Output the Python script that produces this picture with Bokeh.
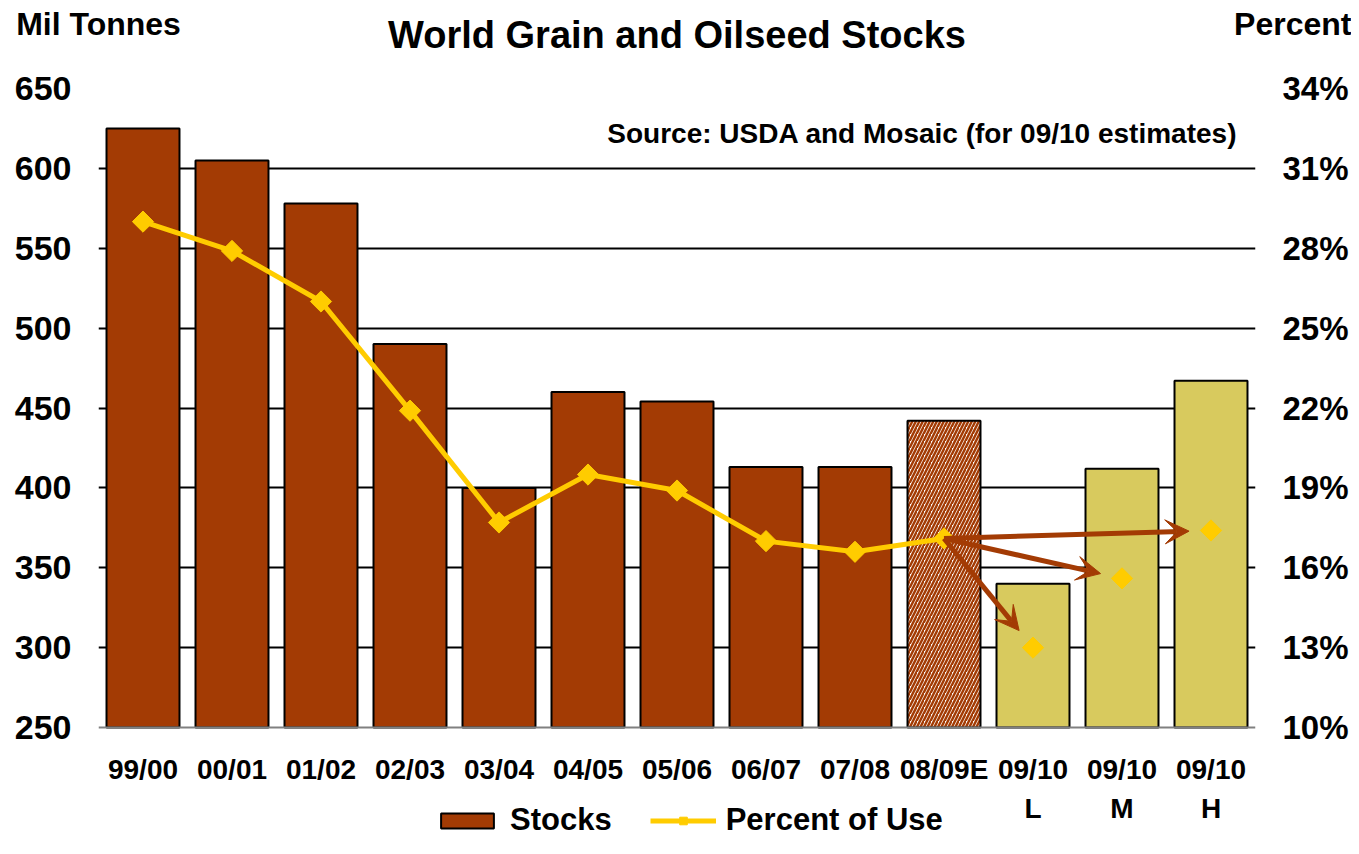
import math
from bokeh.plotting import figure
from bokeh.models import (Range1d, LinearAxis, FixedTicker, ColumnDataSource, Arrow,
                          VeeHead, Label, Legend, LegendItem, Grid, Title)
from bokeh.embed import file_html
from bokeh.resources import INLINE

# ---------------- data ----------------
seasons = ["99/00", "00/01", "01/02", "02/03", "03/04", "04/05", "05/06",
           "06/07", "07/08", "08/09E", "09/10", "09/10", "09/10"]
scenarios = ["", "", "", "", "", "", "", "", "", "", "L", "M", "H"]
stocks = [625, 605, 578, 490, 400, 460, 454, 413, 413, 442, 340, 412, 467]
pct_use = [29.0, 27.9, 26.0, 21.9, 17.7, 19.5, 18.9, 17.0, 16.6, 17.1, 13.0, 15.6, 17.4]
kind = ["hist"] * 9 + ["est"] + ["proj"] * 3

left_ticks = [250, 300, 350, 400, 450, 500, 550, 600, 650]
right_ticks = [10, 13, 16, 19, 22, 25, 28, 31, 34]

title_text = "World Grain and Oilseed Stocks"
left_title = "Mil Tonnes"
right_title = "Percent"
source_text = "Source: USDA and Mosaic (for 09/10 estimates)"

# ---------------- styles / layout ----------------
FONT = "Liberation Sans"
BROWN = "#A33B04"
OLIVE = "#D8CA5E"
YELLOW = "#FFCC00"

W, H = 1351, 838
ML, MR, MT = 98, 94, 88
BASE_Y = 727                      # canvas y of the value-axis baseline
span_px = BASE_Y - MT
fw = W - ML - MR
fh = H - MT

# the frame reaches the canvas bottom so the category labels and legend live inside it
y_lo = left_ticks[0] - (H - BASE_Y) * (left_ticks[-1] - left_ticks[0]) / span_px
p_lo = right_ticks[0] - (H - BASE_Y) * (right_ticks[-1] - right_ticks[0]) / span_px

idx = list(range(len(seasons)))

p = figure(width=W, height=H, output_backend="svg", toolbar_location=None,
           x_range=Range1d(-0.5, len(seasons) - 0.5),
           y_range=Range1d(y_lo, left_ticks[-1]),
           x_axis_location=None, y_axis_location=None,
           min_border_left=ML, min_border_right=MR, min_border_top=MT, min_border_bottom=0,
           background_fill_color="white", border_fill_color="white")
p.outline_line_color = None
p.title.text = ""
p.title.visible = False
p.extra_y_ranges = {"pct": Range1d(p_lo, right_ticks[-1])}
p.extra_x_ranges = {"hdr": Range1d(0, 1)}

p.center = [c for c in p.center if not isinstance(c, Grid)]
p.add_layout(Grid(dimension=1, ticker=FixedTicker(ticks=left_ticks[1:]),
                  grid_line_color="black", grid_line_width=2))

# axes
def style_axis(ax, size):
    ax.axis_line_color = None
    ax.major_tick_line_color = None
    ax.minor_tick_line_color = None
    ax.major_tick_out = 0
    ax.major_tick_in = 0
    ax.minor_tick_out = 0
    ax.minor_tick_in = 0
    ax.major_label_text_font = FONT
    ax.major_label_text_font_size = size
    ax.major_label_text_font_style = "bold"
    ax.major_label_text_color = "black"

yl = LinearAxis(ticker=FixedTicker(ticks=left_ticks))
style_axis(yl, "34px")
yl.major_label_standoff = 27
p.add_layout(yl, "left")

yr = LinearAxis(y_range_name="pct", ticker=FixedTicker(ticks=right_ticks),
                major_label_overrides={t: f"{t}%" for t in right_ticks})
style_axis(yr, "33px")
yr.major_label_standoff = 27
p.add_layout(yr, "right")

xa1 = LinearAxis(ticker=FixedTicker(ticks=idx), fixed_location=left_ticks[0],
                 major_label_overrides={i: s for i, s in zip(idx, seasons)})
style_axis(xa1, "28px")
xa1.axis_line_color = "#808080"
xa1.axis_line_width = 2
xa1.major_label_standoff = 26
p.add_layout(xa1, "below")

sc_idx = [i for i, s in zip(idx, scenarios) if s]
xa2 = LinearAxis(ticker=FixedTicker(ticks=sc_idx), fixed_location=left_ticks[0],
                 major_label_overrides={i: scenarios[i] for i in sc_idx})
style_axis(xa2, "28px")
xa2.major_label_standoff = 65
p.add_layout(xa2, "below")

# unit caption of the left scale, as a label of a header axis at the frame's left edge
SMALL = 32
B_SMALL = 47      # caption text-box bottom above the frame top
B_PCT = 43
hdr = LinearAxis(x_range_name="hdr", ticker=FixedTicker(ticks=[0]),
                 major_label_overrides={0: left_title})
style_axis(hdr, f"{SMALL}px")
hdr.major_label_standoff = B_SMALL
p.add_layout(hdr, "above")

# bars
def sub(k):
    ii = [i for i in idx if kind[i] == k]
    return ColumnDataSource(dict(x=ii, top=[stocks[i] for i in ii]))

BW = 0.82
r_hist = p.vbar(x="x", top="top", bottom=left_ticks[0], width=BW, source=sub("hist"),
                fill_color=BROWN, line_color="black", line_width=2)
p.vbar(x="x", top="top", bottom=left_ticks[0], width=BW, source=sub("est"),
       fill_color="white", hatch_pattern="/", hatch_color=BROWN, hatch_scale=7,
       hatch_weight=2.5, line_color="black", line_width=2)
p.vbar(x="x", top="top", bottom=left_ticks[0], width=BW, source=sub("proj"),
       fill_color=OLIVE, line_color="black", line_width=2)

# percent of use line
n_line = kind.index("proj")
r_line = p.line(idx[:n_line], pct_use[:n_line], y_range_name="pct",
                line_color=YELLOW, line_width=5)
r_pts = p.scatter(idx, pct_use, y_range_name="pct", marker="square", angle=math.pi / 4,
                  size=15, fill_color=YELLOW, line_color=YELLOW)

# arrows from the estimate to each projection, stopping ~22px before the target
pxx = fw / len(seasons)
pxy = span_px / (right_ticks[-1] - right_ticks[0])
s0 = kind.index("est")
xs, ys = idx[s0], pct_use[s0]
ax_s, ay_s, ax_e, ay_e = [], [], [], []
for i in idx:
    if kind[i] != "proj":
        continue
    dxp = (idx[i] - xs) * pxx
    dyp = (pct_use[i] - ys) * pxy
    f = 1 - 22 / math.hypot(dxp, dyp)
    ax_s.append(xs)
    ay_s.append(ys)
    ax_e.append(xs + f * (idx[i] - xs))
    ay_e.append(ys + f * (pct_use[i] - ys))
arr_src = ColumnDataSource(dict(x0=ax_s, y0=ay_s, x1=ax_e, y1=ay_e))
p.add_layout(Arrow(x_start="x0", y_start="y0", x_end="x1", y_end="y1", source=arr_src,
                   y_range_name="pct", line_color=BROWN, line_width=5,
                   end=VeeHead(size=24, fill_color=BROWN, line_color=BROWN, line_width=1)))

# source note
p.add_layout(Label(x=fw - 20, y=fh - 45, x_units="screen", y_units="screen", text=source_text,
                   text_font=FONT, text_font_size="28px", text_font_style="bold",
                   text_color="black", text_align="right", text_baseline="middle"))

# legend at the bottom of the frame
legend = Legend(items=[LegendItem(label="Stocks", renderers=[r_hist]),
                       LegendItem(label="Percent of Use", renderers=[r_line, r_pts])],
                orientation="horizontal", location=(336, 0),
                glyph_width=66, glyph_height=19, label_standoff=10, spacing=38,
                label_height=24, padding=0, margin=0,
                border_line_color=None, background_fill_alpha=0,
                label_text_font=FONT, label_text_font_size="31px",
                label_text_font_style="bold", label_text_color="black")
p.add_layout(legend)

# ---- header titles stacked outside the caption axis ----
MAIN = 38
B_MAIN = 29       # title text-box bottom above the frame top
A_EST = B_SMALL + 1.117 * SMALL        # estimated height of the caption axis

def title(text, size, align, offset, standoff):
    return Title(text=text, align=align, offset=offset, standoff=standoff,
                 vertical_align="bottom", text_font=FONT, text_font_size=f"{size}px",
                 text_font_style="bold", text_color="black")

p.add_layout(title(right_title, SMALL, "right", -96, 2 * (B_PCT - A_EST)), "above")
p.add_layout(title(title_text, MAIN, "center", 0, 2 * (B_MAIN - A_EST)), "above")

open("out.html", "w").write(file_html(p, INLINE))
